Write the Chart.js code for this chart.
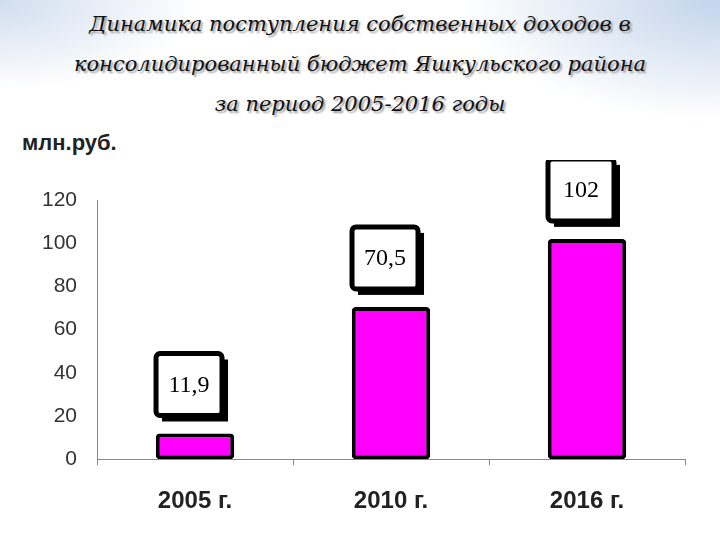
<!DOCTYPE html>
<html><head><meta charset="utf-8">
<script src="https://cdn.jsdelivr.net/npm/chart.js@4"></script>
<style>
body{margin:0;width:720px;height:540px;overflow:hidden;background:#fff;position:relative;font-family:"Liberation Sans",Arial,sans-serif}
#bg{position:absolute;left:0;top:0;width:720px;height:540px;background:
radial-gradient(ellipse 260px 120px at 720px 0px,rgba(120,160,210,0.45),rgba(255,255,255,0) 100%),
radial-gradient(ellipse 200px 90px at 0px 0px,rgba(120,160,210,0.35),rgba(255,255,255,0) 100%);}
#title{position:absolute;left:0;top:4px;width:720px;text-align:center;font-family:"DejaVu Serif",serif;font-style:italic;font-size:21px;line-height:40px;color:#111;text-shadow:2px 2px 2px #999}
#unit{position:absolute;left:22px;top:130px;font-weight:bold;font-size:22px;color:#222}
#wrap{position:absolute;left:0;top:160px;width:720px;height:380px}
</style></head><body>
<div id="bg"></div>
<div id="title">Динамика поступления собственных доходов в<br>консолидированный бюджет Яшкульского района<br>за период 2005-2016 годы</div>
<div id="unit">млн.руб.</div>
<div id="wrap"><canvas id="c" width="720" height="380"></canvas></div>
<script>
const categories=["2005 г.","2010 г.","2016 г."];
const values=[11.9,70.5,102];
const labels=["11,9","70,5","102"];
const boxPlugin={id:'boxes',afterDatasetsDraw(ch){
 const ctx=ch.ctx;const meta=ch.getDatasetMeta(0);
 meta.data.forEach((b,i)=>{
  const w=66,h=62;const x=b.x-w/2-6,y=b.y-h-18;
  ctx.save();
  ctx.fillStyle='#000';ctx.fillRect(x+6,y+6,w,h);
  ctx.fillStyle='#fff';ctx.strokeStyle='#000';ctx.lineWidth=5;
  ctx.beginPath();ctx.roundRect(x,y,w,h,4);ctx.fill();ctx.stroke();
  ctx.fillStyle='#000';ctx.font='24px "Liberation Serif",serif';ctx.textAlign='center';ctx.textBaseline='middle';
  ctx.fillText(labels[i],x+w/2,y+h/2+1);ctx.restore();});
}};
new Chart(document.getElementById('c'),{type:'bar',
data:{labels:categories,datasets:[{data:values,backgroundColor:'#FF00FF',borderColor:'#000',borderWidth:4,borderRadius:4,borderSkipped:false,barPercentage:0.4,categoryPercentage:1}]},
options:{responsive:false,animation:false,layout:{padding:{left:30,right:35,top:40,bottom:2}},
plugins:{legend:{display:false},tooltip:{enabled:false}},
scales:{y:{min:0,max:120,ticks:{stepSize:20,color:'#333',font:{size:21},padding:12},grid:{display:false},border:{color:'#888'}},
x:{ticks:{color:'#222',font:{size:24,weight:'bold'},padding:22},grid:{display:true,drawOnChartArea:false,color:'#888',tickLength:6,offset:true},border:{color:'#888'}}}}
,plugins:[boxPlugin]});
</script></body></html>
